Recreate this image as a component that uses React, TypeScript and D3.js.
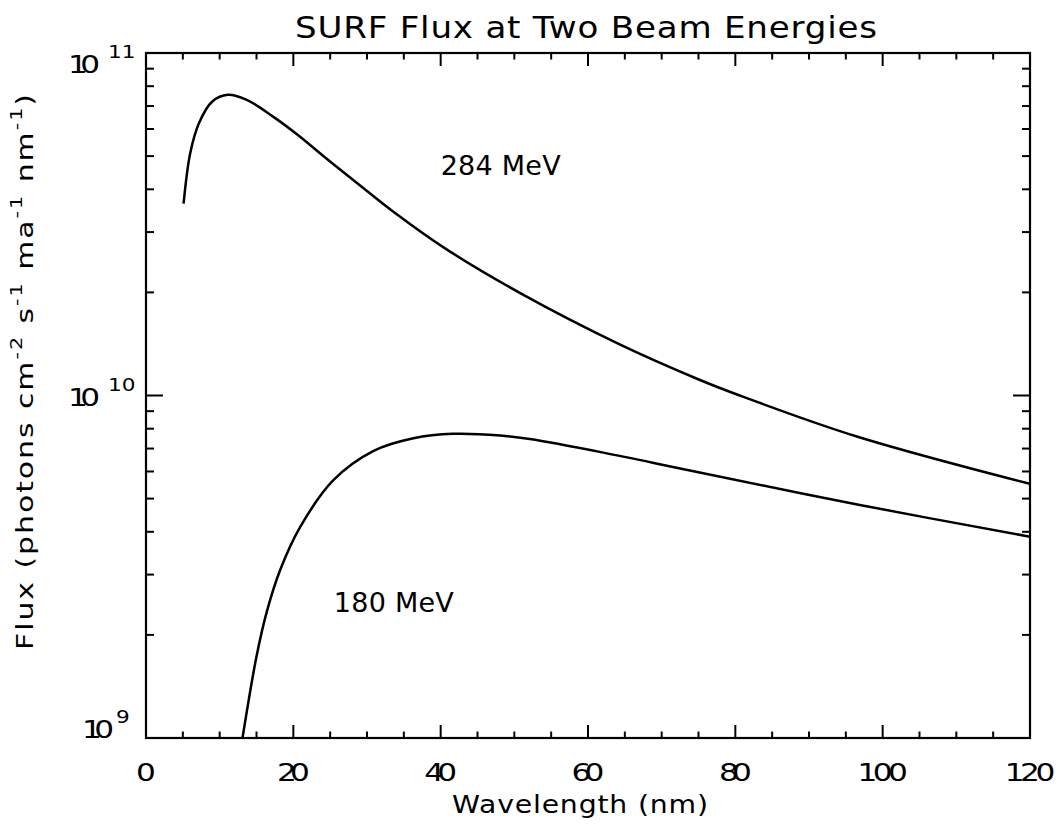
import React from "react";
import * as d3 from "d3";

// Wavelength (nm) and flux (photons cm^-2 s^-1 mA^-1 nm^-1) for each beam energy
const wavelength284 = [5.1, 6.0, 7.2, 9.0, 11.1, 13.6, 17.2, 20.4, 24.9, 29.4, 33.9, 40.7, 50.8, 64.3, 75.2, 80.6, 96.5, 120];
const flux284 = [3.63e10, 5.1e10, 6.25e10, 7.22e10, 7.55e10, 7.31e10, 6.53e10, 5.81e10, 4.84e10, 4.05e10, 3.4e10, 2.68e10, 1.99e10, 1.41e10, 1.11e10, 1.0e10, 7.59e9, 5.52e9];

const wavelength180 = [13.1, 15.0, 16.4, 18.2, 20.9, 25.4, 30.9, 36.3, 41.7, 48.1, 52.1, 62.1, 74.0, 96.9, 120];
const flux180 = [1.0e9, 1.73e9, 2.34e9, 3.09e9, 4.12e9, 5.65e9, 6.89e9, 7.5e9, 7.73e9, 7.64e9, 7.46e9, 6.81e9, 6.03e9, 4.79e9, 3.87e9];

const xMajorTicks = [0, 20, 40, 60, 80, 100, 120];
const xMinorTicks = d3.range(0, 121, 5).filter((v) => v % 20 !== 0);
const yDecades = [9, 10, 11];
const yMinorTicks = [1e9, 1e10].flatMap((d) => d3.range(2, 10).map((m) => m * d));

const seriesLabels = [
  { text: "284 MeV", wl: 40, flux: 4.4e10 },
  { text: "180 MeV", wl: 25.5, flux: 2.33e9 },
];

const W = 1059;
const H = 828;
const left = 146, right = 1030, top = 53, bottom = 738;
const FONT = "DejaVu Sans, sans-serif";

// Text drawn with horizontally widened glyphs, optionally fitted to a given length
function WideText(props: {
  x: number; y: number; size: number; sx: number; len?: number;
  anchor?: string; rotate?: number; children: React.ReactNode;
}) {
  const { x, y, size, sx, len, anchor = "middle", rotate = 0, children } = props;
  return (
    <text
      transform={`translate(${x},${y}) rotate(${rotate}) scale(${sx},1)`}
      fontSize={size}
      textAnchor={anchor}
      textLength={len ? len / sx : undefined}
      lengthAdjust="spacing"
      fill="#000"
    >
      {children}
    </text>
  );
}

export default function App() {
  const x = d3.scaleLinear().domain([0, 120]).range([left, right]);
  const y = d3.scaleLog().domain([1e9, 1e11]).range([bottom, top]);

  const line = d3
    .line<[number, number]>()
    .x((d) => x(d[0]))
    .y((d) => y(d[1]))
    .curve(d3.curveCatmullRom.alpha(0.5));

  const path284 = line(wavelength284.map((w, i) => [w, flux284[i]]));
  const path180 = line(wavelength180.map((w, i) => [w, flux180[i]]));

  const majorX = 13, minorX = 6.5, majorY = 17, minorY = 8;

  return (
    <svg
      width={W}
      height={H}
      viewBox={`0 0 ${W} ${H}`}
      style={{ position: "absolute", left: 0, top: 0, background: "#fff" }}
      fontFamily={FONT}
    >
      <defs>
        <clipPath id="plotArea">
          <rect x={left} y={top} width={right - left} height={bottom - top} />
        </clipPath>
      </defs>

      {/* title */}
      <WideText x={586} y={38} size={31} sx={1.1} len={582}>
        SURF Flux at Two Beam Energies
      </WideText>

      {/* ticks on all four sides */}
      <g stroke="#000" strokeWidth={2}>
        {xMajorTicks.map((t) => (
          <g key={"xM" + t}>
            <line x1={x(t)} x2={x(t)} y1={bottom} y2={bottom - majorX} />
            <line x1={x(t)} x2={x(t)} y1={top} y2={top + majorX} />
          </g>
        ))}
        {xMinorTicks.map((t) => (
          <g key={"xm" + t}>
            <line x1={x(t)} x2={x(t)} y1={bottom} y2={bottom - minorX} />
            <line x1={x(t)} x2={x(t)} y1={top} y2={top + minorX} />
          </g>
        ))}
        {yDecades.map((p) => (
          <g key={"yM" + p}>
            <line x1={left} x2={left + majorY} y1={y(10 ** p)} y2={y(10 ** p)} />
            <line x1={right} x2={right - majorY} y1={y(10 ** p)} y2={y(10 ** p)} />
          </g>
        ))}
        {yMinorTicks.map((v) => (
          <g key={"ym" + v}>
            <line x1={left} x2={left + minorY} y1={y(v)} y2={y(v)} />
            <line x1={right} x2={right - minorY} y1={y(v)} y2={y(v)} />
          </g>
        ))}
      </g>

      {/* frame */}
      <rect x={left} y={top} width={right - left} height={bottom - top} fill="none" stroke="#000" strokeWidth={2.2} />

      {/* x tick labels */}
      {xMajorTicks.map((t) => {
        const n = String(t).length;
        return (
          <WideText key={"xl" + t} x={x(t)} y={781} size={24} sx={1.3} len={n > 1 ? 17.7 * n - 2.5 : undefined}>
            {t}
          </WideText>
        );
      })}

      {/* y tick labels: 10 with exponent */}
      {yDecades.map((p) => {
        const yy = y(10 ** p);
        const f = (bottom - yy) / (bottom - top);
        const baseEnd = p === 9 ? 114 : 100;
        return (
          <g key={"yl" + p}>
            <WideText x={baseEnd} y={yy + 20 * f} size={24} sx={1.3} len={32} anchor="end">
              10
            </WideText>
            <WideText x={baseEnd + (p === 9 ? 2 : 8)} y={yy + 20 * f - 15} size={18} sx={1.2} anchor="start">
              {p}
            </WideText>
          </g>
        );
      })}

      {/* axis titles */}
      <WideText x={580} y={813} size={24} sx={1.18} len={256}>
        Wavelength (nm)
      </WideText>
      <WideText x={33} y={372} size={23} sx={1.3} len={556} rotate={-90}>
        Flux (photons cm<tspan dy={-11} fontSize={16}>-2</tspan>
        <tspan dy={11}> s</tspan><tspan dy={-11} fontSize={16}>-1</tspan>
        <tspan dy={11}> ma</tspan><tspan dy={-11} fontSize={16}>-1</tspan>
        <tspan dy={11}> nm</tspan><tspan dy={-11} fontSize={16}>-1</tspan>
        <tspan dy={11}>)</tspan>
      </WideText>

      {/* curves */}
      <g clipPath="url(#plotArea)" fill="none" stroke="#000" strokeWidth={2.5} strokeLinejoin="round">
        <path d={path284 ?? ""} />
        <path d={path180 ?? ""} />
      </g>

      {/* series labels */}
      {seriesLabels.map((s) => (
        <WideText key={s.text} x={x(s.wl)} y={y(s.flux)} size={27} sx={1} len={120} anchor="start">
          {s.text}
        </WideText>
      ))}
    </svg>
  );
}
